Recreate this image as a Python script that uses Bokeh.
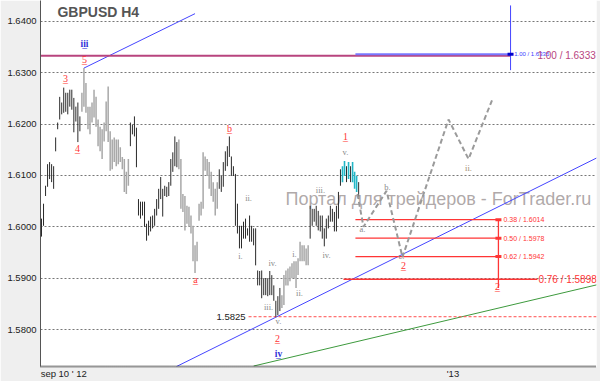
from bokeh.plotting import figure
from bokeh.models import Range1d, FixedTicker, NumeralTickFormatter
from bokeh.core.properties import value
from bokeh.embed import file_html
from bokeh.resources import INLINE

# ---------------- data (GBPUSD H4 bars) ----------------
highs = [1.6016, 1.6045, 1.6080, 1.6122, 1.6126, 1.6122, 1.6118, 1.6174, 1.6203, 1.6253,
         1.6242, 1.6271, 1.6261, 1.6261, 1.6267, 1.6267, 1.6251, 1.6234, 1.6242, 1.6215,
         1.6261, 1.6309, 1.6280, 1.6234, 1.6234, 1.6242, 1.6267, 1.6253, 1.6209, 1.6195,
         1.6190, 1.6203, 1.6244, 1.6273, 1.6186, 1.6170, 1.6174, 1.6170, 1.6170, 1.6155,
         1.6136, 1.6132, 1.6107, 1.6132, 1.6203, 1.6199, 1.6215, 1.6193, 1.6054, 1.6049,
         1.6049, 1.6049, 1.6006, 1.6012, 1.6020, 1.6022, 1.6035, 1.6054, 1.6074, 1.6097,
         1.6074, 1.6080, 1.6078, 1.6087, 1.6132, 1.6145, 1.6176, 1.6165, 1.6170, 1.6132,
         1.6064, 1.6060, 1.6041, 1.6039, 1.6022, 1.6002, 1.5964, 1.5971, 1.6045, 1.6049,
         1.6145, 1.6137, 1.6132, 1.6126, 1.6107, 1.6087, 1.6074, 1.6087, 1.6112, 1.6099,
         1.6126, 1.6147, 1.6157, 1.6176, 1.6137, 1.6118, 1.6103, 1.6045, 1.6002, 1.6002,
         1.6010, 1.6016, 1.5997, 1.6022, 1.6002, 1.5997, 1.5997, 1.5915, 1.5914, 1.5915,
         1.5900, 1.5900, 1.5900, 1.5914, 1.5906, 1.5886, 1.5856, 1.5865, 1.5881, 1.5867,
         1.5906, 1.5915, 1.5919, 1.5923, 1.5929, 1.5933, 1.5933, 1.5939, 1.5971, 1.5964,
         1.5964, 1.5958, 1.5964, 1.6041, 1.6035, 1.6035, 1.6041, 1.6031, 1.6022, 1.6022,
         1.5997, 1.6016, 1.6022, 1.6041, 1.6035, 1.6029, 1.6041, 1.6068, 1.6112, 1.6118,
         1.6128, 1.6118, 1.6126, 1.6118, 1.6126, 1.6107, 1.6099, 1.6087]
lows = [1.5981, 1.6002, 1.6060, 1.6078, 1.6093, 1.6087, 1.6074, 1.6147, 1.6190, 1.6209,
        1.6219, 1.6222, 1.6224, 1.6219, 1.6234, 1.6228, 1.6184, 1.6205, 1.6165, 1.6186,
        1.6224, 1.6234, 1.6222, 1.6190, 1.6180, 1.6203, 1.6213, 1.6195, 1.6157, 1.6147,
        1.6132, 1.6166, 1.6186, 1.6165, 1.6109, 1.6112, 1.6126, 1.6118, 1.6122, 1.6126,
        1.6112, 1.6068, 1.6064, 1.6080, 1.6157, 1.6180, 1.6176, 1.6116, 1.6022, 1.6016,
        1.6022, 1.6000, 1.5973, 1.5983, 1.5991, 1.5997, 1.6002, 1.6022, 1.6035, 1.6054,
        1.6020, 1.6060, 1.6058, 1.6060, 1.6080, 1.6107, 1.6118, 1.6116, 1.6112, 1.6035,
        1.6029, 1.5993, 1.6006, 1.6000, 1.5987, 1.5933, 1.5910, 1.5933, 1.6012, 1.6022,
        1.6035, 1.6109, 1.6099, 1.6074, 1.6060, 1.6049, 1.6022, 1.6035, 1.6074, 1.6068,
        1.6078, 1.6109, 1.6118, 1.6136, 1.6099, 1.6099, 1.6002, 1.5987, 1.5958, 1.5958,
        1.5977, 1.5977, 1.5983, 1.5971, 1.5971, 1.5964, 1.5925, 1.5886, 1.5886, 1.5861,
        1.5867, 1.5867, 1.5865, 1.5867, 1.5867, 1.5856, 1.5825, 1.5828, 1.5836, 1.5842,
        1.5848, 1.5886, 1.5886, 1.5894, 1.5900, 1.5900, 1.5881, 1.5906, 1.5933, 1.5933,
        1.5933, 1.5925, 1.5925, 1.5977, 1.6002, 1.6010, 1.6002, 1.5993, 1.5991, 1.5977,
        1.5962, 1.5977, 1.5997, 1.6010, 1.6010, 1.5991, 1.5991, 1.6016, 1.6080, 1.6087,
        1.6099, 1.6087, 1.6093, 1.6087, 1.6087, 1.6074, 1.6068, 1.6054]

y_ticks = [1.5800, 1.5900, 1.6000, 1.6100, 1.6200, 1.6300, 1.6400]
x_tick_pos = [11.0, 203.7]
x_tick_labels = ["sep 10 ' 12", "'13"]

# projection (future wave path) points: bar index, price
proj_x = [156.4, 159.4, 170.8, 178.7, 201.5, 211.4, 223.3]
proj_y = [1.6064, 1.6000, 1.6070, 1.5941, 1.6209, 1.6132, 1.6249]

# trend lines: (x0, y0, x1, y1)
upper_blue = [21.0, 1.6309, 76.0, 1.6415]
lower_blue = [66.8, 1.5728, 274.8, 1.6134]
green_line = [105.0, 1.5729, 274.8, 1.5887]

# horizontal levels
target_level = 1.6333
target_label = "1.00 / 1.6333"
blue_level = 1.6336
blue_label = "1.00 / 1.6335"
fib_levels = [1.6014, 1.5978, 1.5942]
fib_labels = ["0.38 / 1.6014", "0.50 / 1.5978", "0.62 / 1.5942"]
fib_last_level = 1.5898
fib_last_label = "0.76 / 1.5898"
low_level = 1.5825
low_label = "1.5825"

# wave labels
red_txt = ["5", "3", "4", "a", "b", "1", "2", "2", "2"]
red_x = [21.3, 11.9, 17.8, 76.2, 93.1, 150.5, 116.8, 179.2, 225.7]
red_y = [1.6325, 1.6288, 1.6153, 1.5898, 1.6192, 1.6176, 1.5782, 1.5925, 1.5883]
gray_txt = ["v.", "ii.", "i.", "iv.", "iii.", "v.", "i.", "ii.", "iv.", "iii.", "a.", "b.", "c."]
gray_x = [150.5, 102.5, 98.5, 114.4, 112.4, 117.3, 125.2, 127.7, 141.1, 138.1, 158.9, 171.3, 178.2]
gray_y = [1.6145, 1.6056, 1.5944, 1.5929, 1.5844, 1.5817, 1.5948, 1.5871, 1.5946, 1.6072, 1.5995, 1.6078, 1.5944]
brown_txt = ["ii."]
brown_x = [211.4]
brown_y = [1.6114]
blue_txt = ["iii", "iv"]
blue_x = [21.3, 117.3]
blue_y = [1.6356, 1.5753]

# ---------------- styles ----------------
GRAY_SPANS = [(20, 43), (68, 87), (119, 132)]
CYAN_IDX = {149, 150, 152, 154, 155, 156}
RED = "#ff3535"

n = len(highs)
idx = list(range(n))
colors, widths = [], []
for i in idx:
    if i in CYAN_IDX:
        colors.append("#22b6c6"); widths.append(1.6)
    elif any(a <= i <= b for a, b in GRAY_SPANS):
        colors.append("#a8a8a8"); widths.append(1.5)
    else:
        colors.append("#2a2a2a"); widths.append(1)

p = figure(width=600, height=381, x_range=Range1d(-0.5, 274.75),
           y_range=Range1d(1.57281, 1.64406), output_backend="svg",
           toolbar_location=None, min_border_left=40, min_border_right=4,
           min_border_top=0, min_border_bottom=12,
           background_fill_color="white", border_fill_color="#efefef")
p.outline_line_color = None

# axes
p.yaxis.ticker = FixedTicker(ticks=y_ticks)
p.yaxis.formatter = NumeralTickFormatter(format="0.0000")
p.yaxis.major_label_text_font = "Liberation Sans"
p.yaxis.major_label_text_font_size = "9.5px"
p.yaxis.major_label_text_color = "#222222"
p.yaxis.major_tick_out = 0
p.yaxis.major_tick_in = 0
p.yaxis.minor_tick_line_color = None
p.yaxis.major_label_standoff = 4
p.yaxis.axis_line_color = "#555555"

p.xaxis.ticker = FixedTicker(ticks=x_tick_pos)
p.xaxis.major_label_overrides = {x_tick_pos[k]: x_tick_labels[k] for k in range(len(x_tick_pos))}
p.xaxis.major_label_text_font = "Liberation Sans"
p.xaxis.major_label_text_font_size = "9.5px"
p.xaxis.major_label_text_color = "#222222"
p.xaxis.major_tick_out = 0
p.xaxis.major_tick_in = 0
p.xaxis.minor_tick_line_color = None
p.xaxis.major_label_standoff = 1
p.xaxis.axis_line_color = "#333333"
p.xaxis.axis_line_width = 2
p.xaxis.axis_line_dash = "1 1"

p.xgrid.visible = False
p.ygrid.ticker = FixedTicker(ticks=y_ticks)
p.ygrid.grid_line_color = "#777777"
p.ygrid.grid_line_dash = "2 2"
p.ygrid.grid_line_width = 1

# watermark and title
p.text(x=[120.8], y=[1.6054], text=["Портал для трейдеров - ForTrader.ru"],
       text_font=value("Liberation Sans"), text_font_size=value("18px"),
       text_color="#a29a9a", text_alpha=0.85, text_align="left", text_baseline="middle")
p.text(x=[7.9], y=[1.6418], text=["GBPUSD H4"], text_font=value("Liberation Sans"),
       text_font_size=value("14px"), text_font_style="bold", text_color="#555555",
       text_align="left", text_baseline="middle")

# trend lines
p.line([upper_blue[0], upper_blue[2]], [upper_blue[1], upper_blue[3]], line_color="#4545ff", line_width=1)
p.line([lower_blue[0], lower_blue[2]], [lower_blue[1], lower_blue[3]], line_color="#4545ff", line_width=1)
p.line([green_line[0], green_line[2]], [green_line[1], green_line[3]], line_color="#3d9a3d", line_width=1)

# target lines
p.line([-0.5, 232.2], [target_level, target_level], line_color="#b8447e", line_width=2)
p.line([155.4, 232.2], [blue_level, blue_level], line_color="#7878ff", line_width=2)
p.line([232.2, 232.2], [1.6431, 1.6305], line_color="#4545ff", line_width=1)
p.rect(x=[232.2], y=[blue_level], width=6, height=3, width_units="screen",
       height_units="screen", fill_color="#0000cc", line_color=None)
p.text(x=[234.0], y=[blue_level], text=[blue_label], text_font=value("Liberation Sans"),
       text_font_size=value("6px"), text_color="#4040ff", text_align="left", text_baseline="middle")
p.text(x=[245.5], y=[target_level], text=[target_label], text_font=value("Liberation Sans"),
       text_font_size=value("10px"), text_color="#b8447e", text_align="left", text_baseline="middle")

# low level
p.line([102.5, 275], [low_level, low_level], line_color="#ff4d4d", line_width=1, line_dash="3 2")
p.text(x=[101.0], y=[low_level], text=[low_label], text_font=value("Liberation Sans"),
       text_font_size=value("9.5px"), text_color="#222222", text_align="right", text_baseline="middle")

# fib levels
for lv in fib_levels:
    p.line([155.4, 226.2], [lv, lv], line_color=RED, line_width=1.3)
p.line([149.5, 245.5], [fib_last_level, fib_last_level], line_color=RED, line_width=1.3)
p.line([226.2, 226.2], [fib_levels[0], 1.5881], line_color=RED, line_width=1.3)
p.rect(x=[226.2] * len(fib_levels), y=fib_levels, width=6, height=3, width_units="screen",
       height_units="screen", fill_color=RED, line_color=None)
p.text(x=[228.7] * len(fib_levels), y=fib_levels, text=fib_labels, text_font=value("Liberation Sans"),
       text_font_size=value("7px"), text_color=RED, text_align="left", text_baseline="middle")
p.text(x=[246.0], y=[fib_last_level], text=[fib_last_label], text_font=value("Liberation Sans"),
       text_font_size=value("10px"), text_color=RED, text_align="left", text_baseline="middle")

# bars
p.segment(x0=idx, y0=lows, x1=idx, y1=highs, line_color=colors, line_width=widths)

# projection
p.line(proj_x, proj_y, line_color="#9a9a9a", line_width=2, line_dash="5 3")

# wave labels
def labels(xs, ys, txt, color, size, under=False, bold=False):
    kw = dict(text_font=value("Liberation Serif"), text_font_size=value(size),
              text_color=color, text_align="center", text_baseline="middle")
    p.text(x=xs, y=ys, text=txt, text_font_style="bold" if bold else "normal", **kw)
    if under:
        p.text(x=xs, y=ys, text=["_"] * len(xs), **kw)

labels(red_x, red_y, red_txt, RED, "10px", under=True)
labels(gray_x, gray_y, gray_txt, "#8a8a8a", "8.5px")
labels(brown_x, brown_y, brown_txt, "#a08a72", "8.5px")
labels(blue_x, blue_y, blue_txt, "#3030d8", "9.5px", under=True, bold=True)

open("out.html", "w").write(file_html(p, INLINE))
